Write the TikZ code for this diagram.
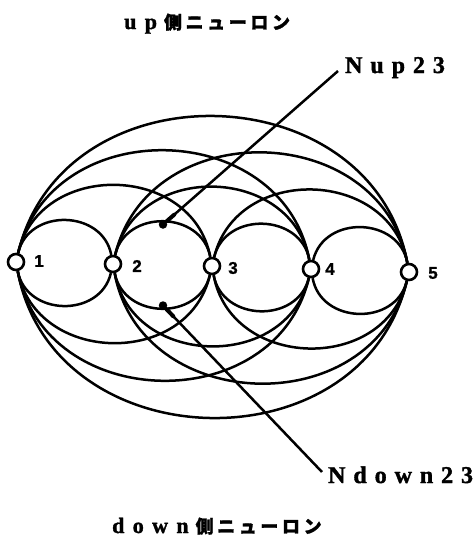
\documentclass[tikz,border=0pt]{standalone}
\usepackage{fontspec}
\setmainfont{Liberation Serif}
\newfontfamily\lblfont[LetterSpace=33, BoldFeatures={FakeBold=1.5}]{Liberation Serif}
\newfontfamily\ttlfont[LetterSpace=38, BoldFeatures={FakeBold=1.5}]{Liberation Serif}
\newfontfamily\cjkfont[LetterSpace=20, BoldFeatures={FakeBold=1.5}]{Noto Sans CJK JP}
\newfontfamily\numfont[BoldFeatures={FakeBold=1}]{Liberation Sans}
\usetikzlibrary{calc}
\begin{document}
\begin{tikzpicture}[x=1pt,y=-1pt,
  neuron/.style={circle, draw, line width=2.6pt, fill=white, minimum size=16pt, inner sep=0pt},
  numlbl/.style={font=\numfont\bfseries\fontsize{17}{17}\selectfont, inner sep=0pt},
  link/.style={line width=2.5pt},
  arctop/.style={link, bend right=78, looseness=1.27},
  arcbot/.style={link, bend left=78, looseness=1.27},
  dotmark/.style={circle, fill=black, inner sep=0pt, minimum size=8.5pt},
  leader/.style={line width=2.5pt},
  lbltext/.style={font=\lblfont\bfseries\fontsize{24}{24}\selectfont, inner sep=0pt, anchor=base west},
  titletext/.style={inner sep=0pt, anchor=base west},
]
\useasboundingbox (0,0) rectangle (473,542);
% neurons
\node[neuron] (n1) at (16,262) {};
\node[neuron] (n2) at (113,264) {};
\node[neuron] (n3) at (212,266) {};
\node[neuron] (n4) at (311,269) {};
\node[neuron] (n5) at (409,272) {};
% number labels
\node[numlbl] (l1) at (39,261) {1};
\node[numlbl] (l2) at (137,266) {2};
\node[numlbl] (l3) at (233,268) {3};
\node[numlbl] (l4) at (330,269) {4};
\node[numlbl] (l5) at (433,273) {5};
% arcs
\foreach \a/\b in {1/2,2/3,3/4,4/5,1/3,2/4,3/5,1/4,2/5,1/5}{
  \draw[arctop] (n\a) to (n\b);
  \draw[arcbot] (n\a) to (n\b);
}
% titles
\node[titletext] (tup) at (124,29)
  {{\ttlfont\bfseries\fontsize{22}{22}\selectfont up}\hspace{7pt}{\cjkfont\bfseries\fontsize{18}{18}\selectfont 側ニューロン}};
\node[titletext] (tdown) at (112,533)
  {{\ttlfont\bfseries\fontsize{22}{22}\selectfont down}\hspace{7pt}{\cjkfont\bfseries\fontsize{18}{18}\selectfont 側ニューロン}};
% labels with leaders
\node[lbltext] (nup) at (345,73) {Nup23};
\node[lbltext] (ndown) at (328,483) {Ndown23};
\coordinate (nuptip) at (338,71);
\coordinate (ndowntip) at (322,472);
\node[dotmark] (dotup) at (163,224.5) {};
\node[dotmark] (dotdown) at (163,305.5) {};
\draw[leader] (dotup) -- (nuptip);
\draw[leader] (dotdown) -- (ndowntip);
\draw[line width=4pt, line cap=round] ($(dotup)!5pt!(nuptip)$) -- ($(dotup)!15pt!(nuptip)$);
\draw[line width=4pt, line cap=round] ($(dotdown)!5pt!(ndowntip)$) -- ($(dotdown)!15pt!(ndowntip)$);
\end{tikzpicture}
\end{document}
